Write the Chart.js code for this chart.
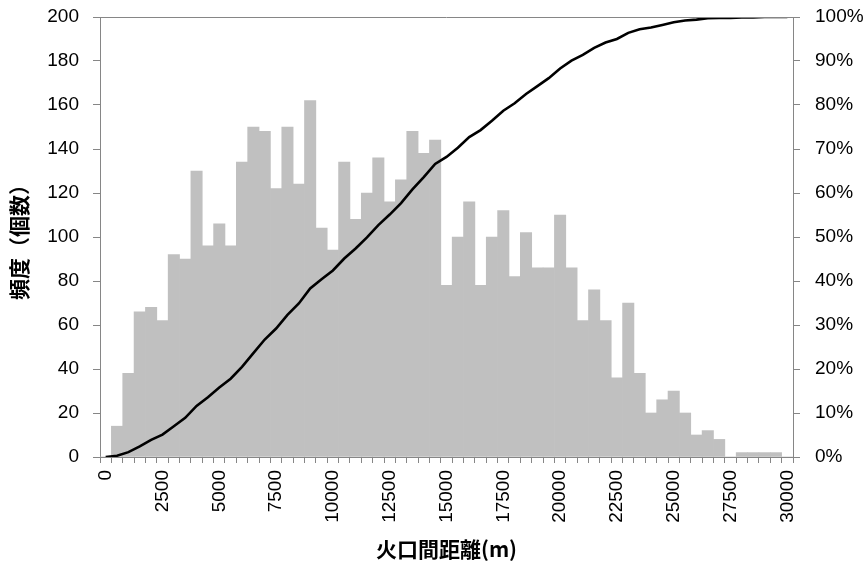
<!DOCTYPE html>
<html>
<head>
<meta charset="utf-8">
<script src="https://cdn.jsdelivr.net/npm/chart.js@4/dist/chart.umd.min.js"></script>
<style>
  html, body { margin: 0; padding: 0; background: #ffffff; }
  #wrap { width: 868px; height: 568px; }
</style>
</head>
<body>
<div id="wrap"><canvas id="chart" width="868" height="568"></canvas></div>
<script>
// Distance classes (m), upper bound of each 500 m bin
const distances = [
  0, 500, 1000, 1500, 2000, 2500, 3000, 3500, 4000, 4500,
  5000, 5500, 6000, 6500, 7000, 7500, 8000, 8500, 9000, 9500,
  10000, 10500, 11000, 11500, 12000, 12500, 13000, 13500, 14000, 14500,
  15000, 15500, 16000, 16500, 17000, 17500, 18000, 18500, 19000, 19500,
  20000, 20500, 21000, 21500, 22000, 22500, 23000, 23500, 24000, 24500,
  25000, 25500, 26000, 26500, 27000, 27500, 28000, 28500, 29000, 29500,
  30000
];

// Frequency (count) per distance class
const frequency = [
  0, 14, 38, 66, 68, 62, 92, 90, 130, 96,
  106, 96, 134, 150, 148, 122, 150, 124, 162, 104,
  94, 134, 108, 120, 136, 116, 126, 148, 138, 144,
  78, 100, 116, 78, 100, 112, 82, 102, 86, 86,
  110, 86, 62, 76, 62, 36, 70, 38, 20, 26,
  30, 20, 10, 12, 8, 0, 2, 2, 2, 2,
  0
];

// Cumulative share (%)
const cumulativePct = [
  0, 0.3, 1.1, 2.4, 3.9, 5.1, 7.0, 8.9, 11.6, 13.6,
  15.8, 17.8, 20.5, 23.6, 26.7, 29.2, 32.3, 34.9, 38.3, 40.4,
  42.4, 45.1, 47.4, 49.9, 52.7, 55.1, 57.7, 60.8, 63.6, 66.6,
  68.2, 70.3, 72.7, 74.3, 76.4, 78.7, 80.4, 82.5, 84.3, 86.1,
  88.3, 90.1, 91.4, 93.0, 94.2, 95.0, 96.4, 97.2, 97.6, 98.2,
  98.8, 99.2, 99.4, 99.7, 99.8, 99.8, 99.9, 99.9, 100, 100,
  100
];

const leftTicks = [0, 20, 40, 60, 80, 100, 120, 140, 160, 180, 200];
const rightTicks = [0, 10, 20, 30, 40, 50, 60, 70, 80, 90, 100];

const AXIS_GRAY = '#868686';
const NUM_FONT = { family: 'Liberation Sans, Arial, sans-serif', size: 19 };
const TITLE_FONT = { family: '"Noto Sans CJK JP", sans-serif', size: 21, weight: 'bold' };

// Closes the plot frame along its top edge
const topFrame = {
  id: 'topFrame',
  afterDraw(chart) {
    const { ctx, chartArea } = chart;
    ctx.save();
    ctx.strokeStyle = AXIS_GRAY;
    ctx.lineWidth = 1;
    ctx.beginPath();
    ctx.moveTo(chartArea.left, chartArea.top + 0.5);
    ctx.lineTo(chartArea.right, chartArea.top + 0.5);
    ctx.stroke();
    ctx.restore();
  }
};

// Fixed axis widths; value axes do not reserve extra room above/below the plot
const fixVertical = (w) => (s) => {
  s.width = w;
  s.paddingTop = 0;
  s.paddingBottom = 0;
};

new Chart(document.getElementById('chart'), {
  type: 'bar',
  data: {
    labels: distances.map(String),
    datasets: [
      {
        type: 'line',
        data: cumulativePct,
        yAxisID: 'y1',
        borderColor: '#000000',
        borderWidth: 2.6,
        pointRadius: 0,
        tension: 0,
        order: 0
      },
      {
        type: 'bar',
        data: frequency,
        yAxisID: 'y',
        backgroundColor: '#c0c0c0',
        borderWidth: 0,
        barPercentage: 1.0,
        categoryPercentage: 1.0,
        order: 1
      }
    ]
  },
  options: {
    responsive: false,
    animation: false,
    devicePixelRatio: 1,
    layout: { padding: { top: 17, left: 0, right: 0, bottom: 0 } },
    plugins: {
      legend: { display: false },
      tooltip: { enabled: false }
    },
    scales: {
      x: {
        type: 'category',
        offset: true,
        grid: { offset: true, drawOnChartArea: false, drawTicks: true, tickLength: 6, color: AXIS_GRAY },
        border: { display: true, color: AXIS_GRAY, width: 1 },
        ticks: {
          autoSkip: false,
          maxRotation: 90,
          minRotation: 90,
          padding: 7,
          color: '#000000',
          font: NUM_FONT,
          callback: (v, i) => (i % 5 === 0 ? String(distances[i]) : '')
        },
        title: {
          display: true,
          text: '火口間距離(m)',
          color: '#000000',
          font: TITLE_FONT,
          padding: { top: 0, bottom: 6 }
        },
        afterFit: (s) => { s.height = 111; }
      },
      y: {
        position: 'left',
        min: 0,
        max: 200,
        afterBuildTicks: (s) => { s.ticks = leftTicks.map(v => ({ value: v })); },
        grid: { drawOnChartArea: false, drawTicks: true, tickLength: 7, color: AXIS_GRAY },
        border: { display: true, color: AXIS_GRAY, width: 1 },
        ticks: { padding: 14, color: '#000000', font: NUM_FONT },
        title: {
          display: true,
          text: '頻度（個数）',
          color: '#000000',
          font: TITLE_FONT,
          padding: { top: 6, bottom: 0 }
        },
        afterFit: fixVertical(100)
      },
      y1: {
        position: 'right',
        min: 0,
        max: 100,
        afterBuildTicks: (s) => { s.ticks = rightTicks.map(v => ({ value: v })); },
        grid: { drawOnChartArea: false, drawTicks: true, tickLength: 7, color: AXIS_GRAY },
        border: { display: true, color: AXIS_GRAY, width: 1 },
        ticks: { padding: 15, color: '#000000', font: NUM_FONT, callback: (v) => v + '%' },
        afterFit: fixVertical(75)
      }
    }
  },
  plugins: [topFrame]
});
</script>
</body>
</html>
